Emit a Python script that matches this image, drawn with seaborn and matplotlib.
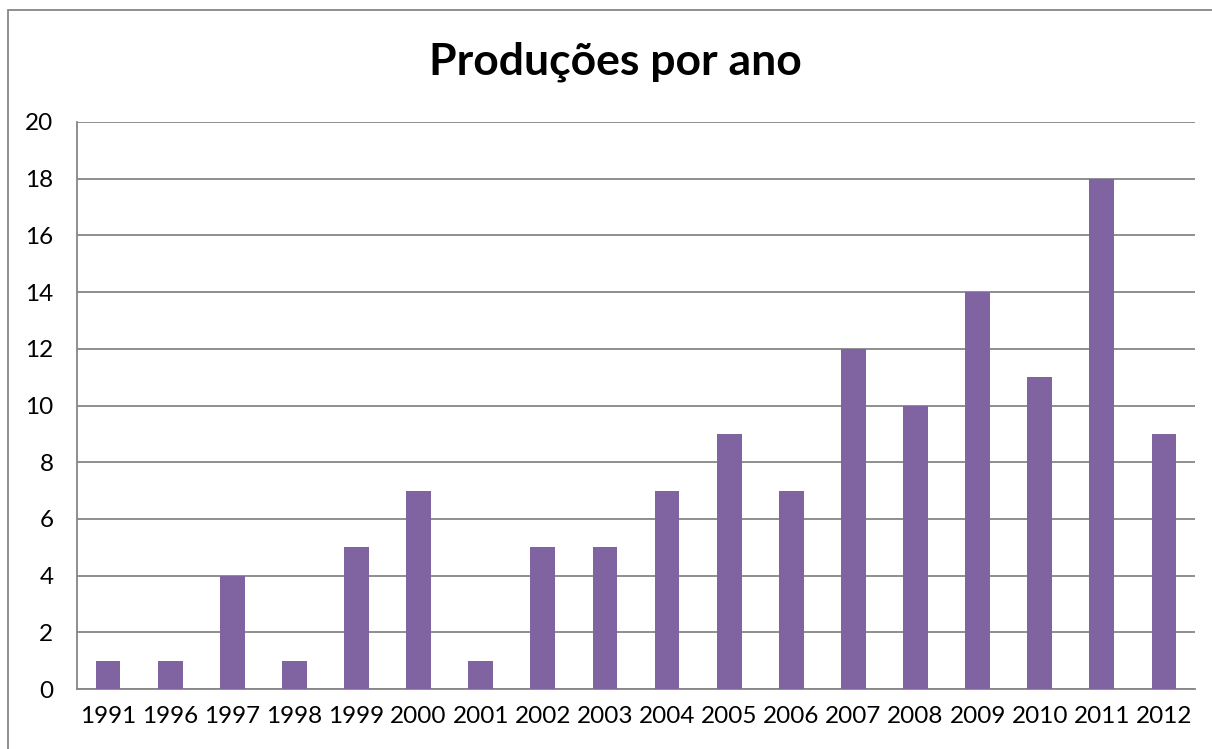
import numpy as np
import pandas as pd
import seaborn as sns
import matplotlib.pyplot as plt
from matplotlib.patches import Rectangle

# data
anos = ["1991", "1996", "1997", "1998", "1999", "2000", "2001", "2002", "2003",
        "2004", "2005", "2006", "2007", "2008", "2009", "2010", "2011", "2012"]
producoes = [1, 1, 4, 1, 5, 7, 1, 5, 5, 7, 9, 7, 12, 10, 14, 11, 18, 9]
y_ticks = [0, 2, 4, 6, 8, 10, 12, 14, 16, 18, 20]

df = pd.DataFrame({"ano": anos, "producoes": producoes})

sns.set_style("white")
plt.rcParams["font.family"] = ["Lato", "DejaVu Sans"]
plt.rcParams["text.color"] = "black"
plt.rcParams["xtick.labelcolor"] = "black"
plt.rcParams["ytick.labelcolor"] = "black"

grid_col = "#868686"

fig = plt.figure(figsize=(12.12, 7.49), dpi=100)
ax = fig.add_axes([77 / 1212, 1 - 689 / 749, (1195 - 77) / 1212, (689 - 122) / 749])

sns.barplot(data=df, x="ano", y="producoes", color="#8064A2", width=0.4,
            saturation=1, linewidth=0, ax=ax, zorder=3)

ax.set_ylim(0, 20)
ax.set_xlim(-0.5, len(anos) - 0.5)
ax.set_yticks(y_ticks)
ax.yaxis.grid(True, color=grid_col, linewidth=1.3, zorder=0)
ax.set_axisbelow(True)
ax.set_xlabel("")
ax.set_ylabel("")

for s in ["top", "right"]:
    ax.spines[s].set_visible(False)
for s in ["left", "bottom"]:
    ax.spines[s].set_color(grid_col)
    ax.spines[s].set_linewidth(1.3)

ax.tick_params(axis="y", length=7, width=1.3, color=grid_col, labelsize=17.5, pad=10)
ax.tick_params(axis="x", which="major", length=0, labelsize=17.5, pad=12)
ax.set_xticks(np.arange(-0.5, len(anos), 1.0), minor=True)
ax.tick_params(axis="x", which="minor", length=7, width=1.3, color=grid_col)

fig.text(615 / 1212, 1 - 62 / 749, "Produções por ano", ha="center", va="center",
         fontsize=32, fontweight="bold", color="black")

# chart frame
fig.patches.append(Rectangle((8 / 1212, -0.02), 1.1, 1 - 10 / 749 + 0.02,
                             transform=fig.transFigure, fill=False,
                             edgecolor=grid_col, linewidth=1.3))

fig.savefig("out.png", dpi=100)
